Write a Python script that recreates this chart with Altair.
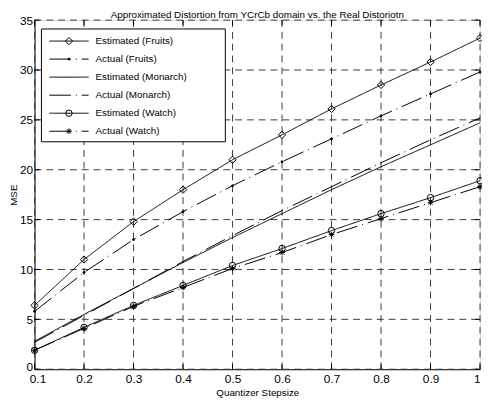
import altair as alt
import pandas as pd

# ---- data ----
x_vals = [0.1, 0.2, 0.3, 0.4, 0.5, 0.6, 0.7, 0.8, 0.9, 1.0]
series_names = ["Estimated (Fruits)", "Actual (Fruits)", "Estimated (Monarch)",
                "Actual (Monarch)", "Estimated (Watch)", "Actual (Watch)"]
fruits_est = [6.4, 11.0, 14.8, 18.0, 21.0, 23.5, 26.1, 28.5, 30.8, 33.2]
fruits_act = [5.8, 9.7, 13.0, 15.8, 18.4, 20.8, 23.1, 25.4, 27.6, 29.8]
monarch_est = [2.8, 5.5, 8.1, 10.7, 13.2, 15.6, 18.0, 20.3, 22.5, 24.7]
monarch_act = [2.7, 5.4, 8.1, 10.8, 13.4, 15.9, 18.3, 20.7, 23.0, 25.2]
watch_est = [1.9, 4.2, 6.4, 8.4, 10.4, 12.1, 13.9, 15.6, 17.2, 18.9]
watch_act = [1.9, 4.1, 6.3, 8.2, 10.1, 11.7, 13.5, 15.1, 16.7, 18.3]
x_ticks = [0.1, 0.2, 0.3, 0.4, 0.5, 0.6, 0.7, 0.8, 0.9, 1.0]
y_ticks = [0, 5, 10, 15, 20, 25, 30, 35]
title_text = "Approximated Distortion from YCrCb domain vs. the Real Distoriotn"

all_series = [fruits_est, fruits_act, monarch_est, monarch_act, watch_est, watch_act]
rows = []
for name, vals in zip(series_names, all_series):
    for xv, yv in zip(x_vals, vals):
        rows.append({"x": xv, "value": yv, "series": name})
df = pd.DataFrame(rows)
legend_df = pd.DataFrame({"series": series_names})
xt_df = pd.DataFrame({"x": x_ticks})
yt_df = pd.DataFrame({"value": y_ticks})
one_df = pd.DataFrame({"a": [0]})

W, H = 453, 355
FONT = "Liberation Sans"

solid = [1, 0]
dashdot = [22, 5, 1, 5]
dash_scale = alt.Scale(domain=series_names,
                       range=[solid, dashdot, solid, dashdot, solid, dashdot])
asterisk = "M-1,0L1,0M0,-1L0,1M-0.7,-0.7L0.7,0.7M-0.7,0.7L0.7,-0.7"
# marker specs: (series, shape, size, fill)
marker_specs = [
    ("Estimated (Fruits)", "diamond", 55, "transparent"),
    ("Actual (Fruits)", "circle", 4, "black"),
    ("Estimated (Watch)", "circle", 42, "transparent"),
    ("Actual (Watch)", asterisk, 34, "transparent"),
]

xscale = alt.Scale(domain=[0.1, 1.0], nice=False, zero=False)
yscale = alt.Scale(domain=[0, 35], nice=False, zero=False)

x_enc = alt.X("x:Q", scale=xscale, axis=alt.Axis(
    values=x_ticks, title="Quantizer Stepsize", labelPadding=5, grid=False,
    ticks=False, tickSize=0,
    labelFont=FONT, labelFontSize=12, labelColor="black", labelFlush=False,
    labelOverlap=False, labelFontWeight="normal",
    labelAlign={"condition": {"test": "datum.value >= 0.99", "value": "right"},
                "value": "center"},
    labelOffset={"condition": {"test": "datum.value <= 0.11", "value": 3},
                 "value": 0},
    labelExpr="datum.value >= 0.99 ? '1' : format(datum.value, '.1f')",
    titleFont=FONT, titleFontSize=10, titleFontWeight="normal", titleColor="black",
    titleX=W / 2, titleY=27, titleBaseline="alphabetic", titleAlign="center",
    domainColor="black"))
y_enc = alt.Y("value:Q", scale=yscale, axis=alt.Axis(
    values=y_ticks, title="MSE", labelPadding=2, format="d", grid=False,
    ticks=False, tickSize=0,
    labelFont=FONT, labelFontSize=12, labelColor="black", labelFlush=False,
    labelOverlap=False, labelFontWeight="normal",
    labelOffset={"condition": {"test": "datum.value == 0", "value": -3},
                 "value": 0},
    titleFont=FONT, titleFontSize=10, titleFontWeight="normal", titleColor="black",
    titleX=-18, titleY=H / 2, titleAngle=270, titleBaseline="alphabetic",
    titleAlign="center", domainColor="black"))

grid_style = dict(color="#3a3a3a", strokeWidth=1, strokeDash=[7, 5])
xgrid = alt.Chart(xt_df).mark_rule(**grid_style).encode(
    x=alt.X("x:Q", scale=xscale), y=alt.value(0), y2=alt.value(H))
ygrid = alt.Chart(yt_df).mark_rule(**grid_style).encode(
    y=alt.Y("value:Q", scale=yscale), x=alt.value(0), x2=alt.value(W))

lines = alt.Chart(df).mark_line(color="black", strokeWidth=1).encode(
    x=x_enc, y=y_enc,
    strokeDash=alt.StrokeDash("series:N", scale=dash_scale, legend=None),
)

point_layers = []
for name, shp, sz, fl in marker_specs:
    point_layers.append(
        alt.Chart(df).transform_filter(alt.datum.series == name).mark_point(
            shape=shp, size=sz, fill=fl, stroke="black", strokeWidth=1,
            opacity=1, filled=(fl != "transparent"),
        ).encode(x=alt.X("x:Q", scale=xscale), y=alt.Y("value:Q", scale=yscale))
    )

tick_len = 5
xt_bottom = alt.Chart(xt_df).mark_rule(color="black").encode(
    x=alt.X("x:Q", scale=xscale), y=alt.value(H), y2=alt.value(H - tick_len))
xt_top = alt.Chart(xt_df).mark_rule(color="black").encode(
    x=alt.X("x:Q", scale=xscale), y=alt.value(0), y2=alt.value(tick_len))
yt_left = alt.Chart(yt_df).mark_rule(color="black").encode(
    y=alt.Y("value:Q", scale=yscale), x=alt.value(0), x2=alt.value(tick_len))
yt_right = alt.Chart(yt_df).mark_rule(color="black").encode(
    y=alt.Y("value:Q", scale=yscale), x=alt.value(W), x2=alt.value(W - tick_len))

main = alt.layer(xgrid, ygrid, lines, *point_layers, xt_bottom, xt_top, yt_left, yt_right)

# ---- legend ----
leg_y = alt.Y("series:N", scale=alt.Scale(type="point", domain=series_names,
                                          range=[21.3, 113], padding=0), axis=None)
box = alt.Chart(one_df).mark_rect(fill="white", stroke="black", strokeWidth=1).encode(
    x=alt.value(7), x2=alt.value(194), y=alt.value(9), y2=alt.value(123.7))
leg_lines = alt.Chart(legend_df).mark_rule(color="black", strokeWidth=1).encode(
    x=alt.value(15), x2=alt.value(55), y=leg_y,
    strokeDash=alt.StrokeDash("series:N", scale=dash_scale, legend=None))
leg_points = []
for name, shp, sz, fl in marker_specs:
    leg_points.append(
        alt.Chart(legend_df).transform_filter(alt.datum.series == name).mark_point(
            shape=shp, size=sz, fill=fl, stroke="black", strokeWidth=1,
            opacity=1, filled=(fl != "transparent"),
        ).encode(x=alt.value(35), y=leg_y)
    )
leg_text = alt.Chart(legend_df).mark_text(
    align="left", baseline="middle", font=FONT, fontSize=10, color="black"
).encode(x=alt.value(62), y=leg_y, text="series:N")
title = alt.Chart(one_df).mark_text(
    align="center", baseline="alphabetic", font=FONT, fontSize=10, color="black"
).encode(x=alt.value(W / 2), y=alt.value(-2), text=alt.value(title_text))

legend = alt.layer(box, leg_lines, *leg_points, leg_text, title)

chart = alt.layer(main, legend).resolve_scale(y="independent").properties(
    width=W, height=H,
    padding={"left": 27, "top": 9, "right": 2, "bottom": 30},
    autosize=alt.AutoSizeParams(type="none"),
).configure_view(stroke="black", strokeWidth=1).configure(background="white")

chart.save("out.html", embed_options={"renderer": "svg", "actions": False})
